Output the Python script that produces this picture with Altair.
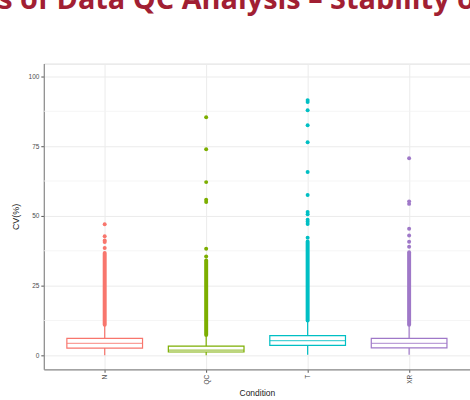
import altair as alt
import pandas as pd

# ---- data ----
conditions = ["N", "QC", "T", "XR"]
colors = ["#F8766D", "#7CAE00", "#00BFC4", "#9F78C8"]
q1 = [2.6, 1.2, 3.6, 2.7]
median = [4.3, 1.9, 5.3, 4.3]
q3 = [6.1, 3.3, 7.1, 6.1]
whisk_lo = [0.0, 0.0, 0.2, 0.2]
whisk_hi = [10.6, 6.8, 12.2, 10.7]
# dense runs of outliers (drawn as a continuous column)
dense_lo = [11.0, 7.3, 12.5, 11.0]
dense_hi = [36.7, 34.0, 40.8, 37.0]
# isolated outliers
outliers = {
    "N": [38.5, 40.6, 41.2, 42.7, 47.0],
    "QC": [35.4, 38.2, 55.0, 55.8, 62.1, 73.9, 85.4],
    "T": [42.2, 47.1, 47.9, 48.6, 50.6, 51.4, 57.5, 65.7, 76.4, 82.5, 87.9, 90.8, 91.5],
    "XR": [38.9, 40.7, 43.0, 45.4, 54.3, 55.2, 70.7],
}
y_ticks = [0, 25, 50, 75, 100]
y_minor = [12.5, 37.5, 62.5, 87.5]
title_text = "Results of Data QC Analysis \u2013 Stability of"

box = pd.DataFrame({"cond": conditions, "q1": q1, "med": median, "q3": q3,
                    "lo": whisk_lo, "hi": whisk_hi, "dlo": dense_lo, "dhi": dense_hi})
pts = pd.DataFrame([{"cond": c, "v": v} for c, vals in outliers.items() for v in vals])
minor = pd.DataFrame({"v": y_minor})

W, H = 428, 307
x = alt.X("cond:N", sort=conditions,
          scale=alt.Scale(type="point", padding=0.6, domain=conditions),
          axis=alt.Axis(title="Condition", labelAngle=270, labelAlign="right",
                        labelBaseline="middle", labelFontSize=6.5, labelColor="#4D4D4D",
                        tickSize=3, tickColor="#555555", labelPadding=2,
                        titleFontSize=8.5, titleFontWeight="normal", titleColor="#222222",
                        titlePadding=5, domainColor="#8C8C8C", domainWidth=1.2,
                        grid=True, gridColor="#EBEBEB", gridWidth=1))
yscale = alt.Scale(domain=[-5, 104.6], nice=False, zero=False)
yaxis = alt.Axis(title="CV(%)", values=y_ticks, labelFontSize=6.5, labelColor="#4D4D4D",
                 tickSize=3, tickColor="#555555", labelPadding=2,
                 titleFontSize=9, titleFontWeight="normal", titleColor="#222222",
                 titlePadding=8, domainColor="#8C8C8C", domainWidth=1.2,
                 grid=True, gridColor="#EBEBEB", gridWidth=1)
color = alt.Color("cond:N", scale=alt.Scale(domain=conditions, range=colors), legend=None)

minor_grid = alt.Chart(minor).mark_rule(color="#F3F3F3", strokeWidth=0.8).encode(
    y=alt.Y("v:Q", scale=yscale, axis=yaxis))

base = alt.Chart(box)
whisk_low = base.mark_rule(strokeWidth=1.2).encode(
    x=x, y=alt.Y("lo:Q", scale=yscale, axis=yaxis), y2="q1:Q", color=color)
whisk_up = base.mark_rule(strokeWidth=1.2).encode(
    x=x, y=alt.Y("q3:Q", scale=yscale, axis=yaxis), y2="hi:Q", color=color)
boxes = base.mark_bar(size=76, fill="white", strokeWidth=1.2).encode(
    x=x, y=alt.Y("q1:Q", scale=yscale, axis=yaxis), y2="q3:Q",
    stroke=alt.Stroke("cond:N", scale=alt.Scale(domain=conditions, range=colors), legend=None))
med = base.mark_tick(size=76, thickness=1.3).encode(
    x=x, y=alt.Y("med:Q", scale=yscale, axis=yaxis), color=color)
dense = base.mark_rule(strokeWidth=4, strokeCap="round").encode(
    x=x, y=alt.Y("dlo:Q", scale=yscale, axis=yaxis), y2="dhi:Q", color=color)
out = alt.Chart(pts).mark_circle(size=16, opacity=1).encode(
    x=x, y=alt.Y("v:Q", scale=yscale, axis=yaxis), color=color)

title = alt.Chart(pd.DataFrame({"t": [title_text]})).mark_text(
    align="left", baseline="alphabetic", font="Open Sans", fontWeight="bold",
    fontSize=29, color="#A11F33").encode(
    x=alt.value(-137), y=alt.value(-55), text="t:N")

chart = alt.layer(minor_grid, whisk_low, whisk_up, boxes, med, dense, out, title).properties(
    width=W, height=H,
    autosize=alt.AutoSizeParams(type="none"),
    padding={"left": 44, "top": 63, "right": 0, "bottom": 30},
).configure_view(stroke="#D6D6D6", strokeWidth=1).configure_axis(
    titleColor="#222222", titleFont="Liberation Sans", labelFont="Liberation Sans"
).configure(background="white")

chart.save("out.html", embed_options={"renderer": "svg", "actions": False})
